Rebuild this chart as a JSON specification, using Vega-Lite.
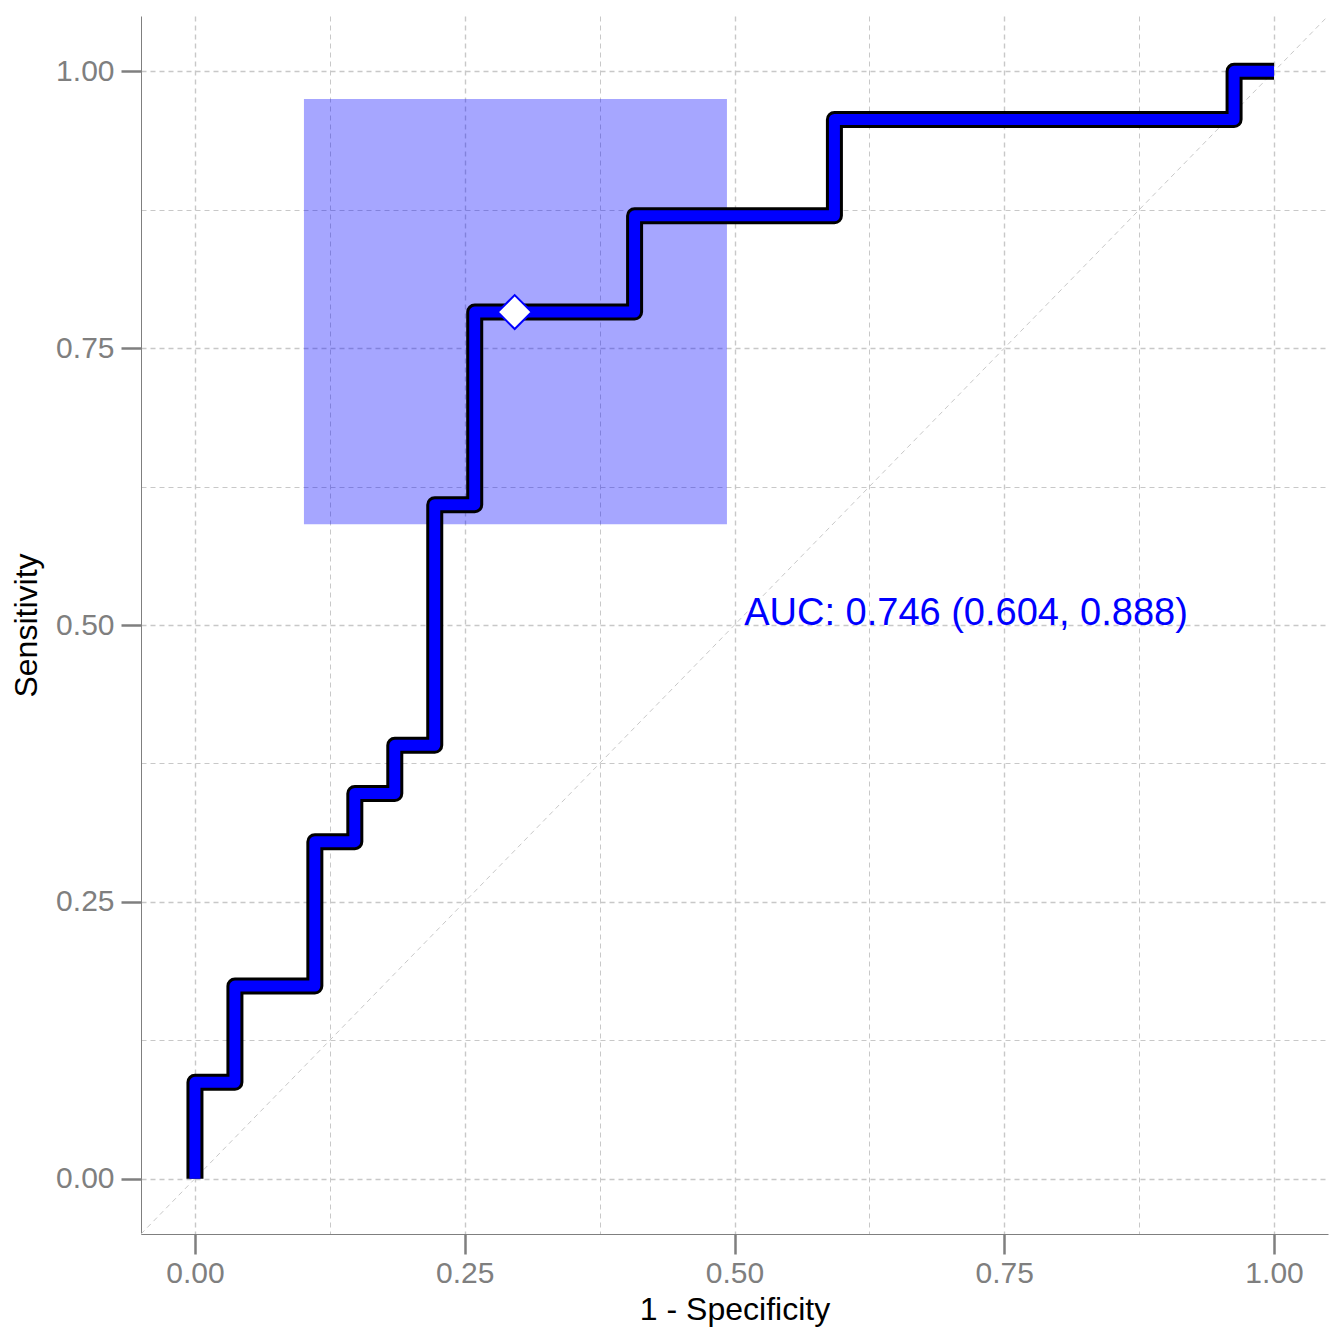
{
  "$schema": "https://vega.github.io/schema/vega-lite/v6.json",
  "autosize": "none",
  "width": 1187,
  "height": 1218,
  "padding": {"left": 141, "top": 16, "right": 16, "bottom": 110},
  "background": "white",
  "config": {
    "view": {"stroke": null},
    "font": "Liberation Sans",
    "axis": {
      "domainColor": "#7f7f7f",
      "domainWidth": 1,
      "tickColor": {"condition": {"test": "datum.value % 0.25 !== 0", "value": "transparent"}, "value": "#7f7f7f"},
      "tickSize": 20,
      "tickWidth": 2.5,
      "gridDash": [5, 4],
      "gridColor": "#c8c8c8",
      "gridWidth": {"condition": {"test": "datum.value % 0.25 !== 0", "value": 1}, "value": 1.4},
      "labelColor": "#7f7f7f",
      "labelFontSize": 30,
      "labelFont": "Liberation Sans",
      "titleFont": "Liberation Sans",
      "titleFontSize": 32,
      "titleFontWeight": "normal",
      "titleColor": "black",
      "labelExpr": "datum.value % 0.25 === 0 ? format(datum.value, '.2f') : ''"
    }
  },
  "datasets": {
    "roc": [
      {"i": 0, "fpr": 0.0, "tpr": 0.0},
      {"i": 1, "fpr": 0.0, "tpr": 0.08696},
      {"i": 2, "fpr": 0.03704, "tpr": 0.08696},
      {"i": 3, "fpr": 0.03704, "tpr": 0.17391},
      {"i": 4, "fpr": 0.11111, "tpr": 0.17391},
      {"i": 5, "fpr": 0.11111, "tpr": 0.30435},
      {"i": 6, "fpr": 0.14815, "tpr": 0.30435},
      {"i": 7, "fpr": 0.14815, "tpr": 0.34783},
      {"i": 8, "fpr": 0.18519, "tpr": 0.34783},
      {"i": 9, "fpr": 0.18519, "tpr": 0.3913},
      {"i": 10, "fpr": 0.22222, "tpr": 0.3913},
      {"i": 11, "fpr": 0.22222, "tpr": 0.6087},
      {"i": 12, "fpr": 0.25926, "tpr": 0.6087},
      {"i": 13, "fpr": 0.25926, "tpr": 0.78261},
      {"i": 14, "fpr": 0.40741, "tpr": 0.78261},
      {"i": 15, "fpr": 0.40741, "tpr": 0.86957},
      {"i": 16, "fpr": 0.59259, "tpr": 0.86957},
      {"i": 17, "fpr": 0.59259, "tpr": 0.95652},
      {"i": 18, "fpr": 0.96296, "tpr": 0.95652},
      {"i": 19, "fpr": 0.96296, "tpr": 1.0},
      {"i": 20, "fpr": 1.0, "tpr": 1.0}
    ]
  },
  "layer": [
    {
      "data": {"values": [{"x1": 0.101, "x2": 0.493, "y1": 0.591, "y2": 0.975}]},
      "mark": {"type": "rect", "color": "blue", "opacity": 0.35},
      "encoding": {
        "x": {
          "field": "x1", "type": "quantitative",
          "scale": {"domain": [-0.05, 1.05], "nice": false, "zero": false},
          "axis": {
            "title": "1 - Specificity",
            "values": [0, 0.125, 0.25, 0.375, 0.5, 0.625, 0.75, 0.875, 1],
            "labelPadding": 4,
            "titlePadding": 6
          }
        },
        "x2": {"field": "x2"},
        "y": {
          "field": "y1", "type": "quantitative",
          "scale": {"domain": [-0.05, 1.05], "nice": false, "zero": false},
          "axis": {
            "title": "Sensitivity",
            "values": [0, 0.125, 0.25, 0.375, 0.5, 0.625, 0.75, 0.875, 1],
            "labelPadding": 7,
            "titlePadding": 12
          }
        },
        "y2": {"field": "y2"}
      }
    },
    {
      "data": {"values": [{"x": -0.05, "y": -0.05, "x2": 1.05, "y2": 1.05}]},
      "mark": {"type": "rule", "color": "#c8c8c8", "strokeWidth": 1, "strokeDash": [5, 4]},
      "encoding": {
        "x": {"field": "x", "type": "quantitative"},
        "y": {"field": "y", "type": "quantitative"},
        "x2": {"field": "x2"},
        "y2": {"field": "y2"}
      }
    },
    {
      "data": {"name": "roc"},
      "mark": {"type": "line", "color": "black", "strokeWidth": 17, "strokeJoin": "round", "strokeCap": "butt"},
      "encoding": {
        "x": {"field": "fpr", "type": "quantitative"},
        "y": {"field": "tpr", "type": "quantitative"},
        "order": {"field": "i"}
      }
    },
    {
      "data": {"name": "roc"},
      "mark": {"type": "line", "color": "blue", "strokeWidth": 11, "strokeJoin": "round", "strokeCap": "butt"},
      "encoding": {
        "x": {"field": "fpr", "type": "quantitative"},
        "y": {"field": "tpr", "type": "quantitative"},
        "order": {"field": "i"}
      }
    },
    {
      "data": {"values": [{"fpr": 0.2963, "tpr": 0.78261}]},
      "mark": {"type": "point", "shape": "diamond", "size": 1156, "filled": true, "fill": "white", "stroke": "blue", "strokeWidth": 2, "opacity": 1},
      "encoding": {
        "x": {"field": "fpr", "type": "quantitative"},
        "y": {"field": "tpr", "type": "quantitative"}
      }
    },
    {
      "data": {"values": [{"x": 0.509, "y": 0.5, "label": "AUC: 0.746 (0.604, 0.888)"}]},
      "mark": {"type": "text", "align": "left", "baseline": "alphabetic", "fontSize": 38, "color": "blue", "font": "Liberation Sans"},
      "encoding": {
        "x": {"field": "x", "type": "quantitative"},
        "y": {"field": "y", "type": "quantitative"},
        "text": {"field": "label"}
      }
    }
  ]
}
